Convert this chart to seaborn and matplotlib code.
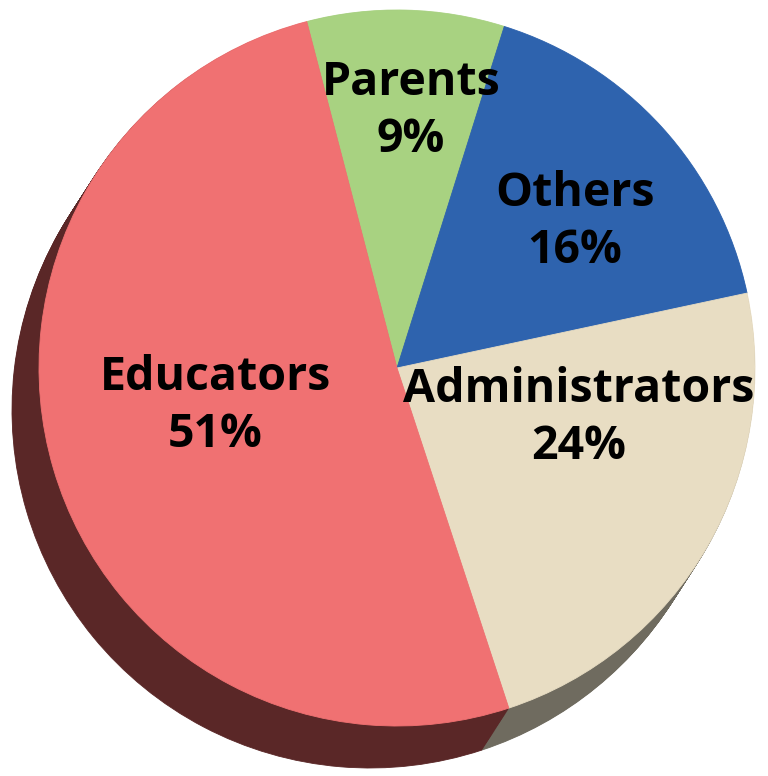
#pie chart of respondent groups with a dark extruded shadow
import numpy as np
import matplotlib
matplotlib.use('Agg')
import matplotlib.pyplot as plt
import seaborn as sns

groups = ['Parents', 'Others', 'Administrators', 'Educators']
shares = [8.9, 16.8, 23.3, 51.0]
labels = ['Parents\n9%', 'Others\n16%', 'Administrators\n24%', 'Educators\n51%']

top_colors = ['#A8D281', '#2E63AE', '#E8DDC3', '#F07172']
side_colors = ['#4E6438', '#1B3866', '#6F6B5F', '#5A2727']

# label block centres (figure pixels, y measured from the top)
label_xy = [(411, 111), (575, 222), (579, 418), (215, 406)]


def pie_layer(ax, colors, center, r):
    wedges, _ = ax.pie(shares, colors=sns.color_palette(colors), startangle=104.6,
                       counterclock=False, radius=r, center=center, frame=True)
    for w in wedges:
        w.set_edgecolor(w.get_facecolor())
        w.set_linewidth(0.6)
    return wedges


def draw_pie(outfile):
    '''
    Draws the pie, its shadow body and the labels
    :param outfile: where the png goes
    '''
    sns.set_theme(style='white')
    plt.rcParams['font.family'] = ['Open Sans', 'DejaVu Sans']

    W, H = 768, 776
    fig = plt.figure(figsize=(W / 100, H / 100), dpi=100)
    ax = fig.add_axes([0, 0, 1, 1])

    cx, cy, r = 397, H - 368, 358
    dx, dy = -27, -42

    # shadow body: stack of offset copies, farthest first
    for t in np.linspace(1, 0.02, 40):
        pie_layer(ax, side_colors, (cx + t * dx, cy + t * dy), r)

    pie_layer(ax, top_colors, (cx, cy), r)

    ax.set_xlim(0, W)
    ax.set_ylim(0, H)
    ax.set_aspect('equal')
    ax.axis('off')

    for lab, (x, y) in zip(labels, label_xy):
        ax.text(x, H - y, lab, ha='center', va='center', multialignment='center',
                fontsize=33.5, fontweight='bold', color='black', linespacing=1.28)

    fig.savefig(outfile, dpi=100)


draw_pie('out.png')
